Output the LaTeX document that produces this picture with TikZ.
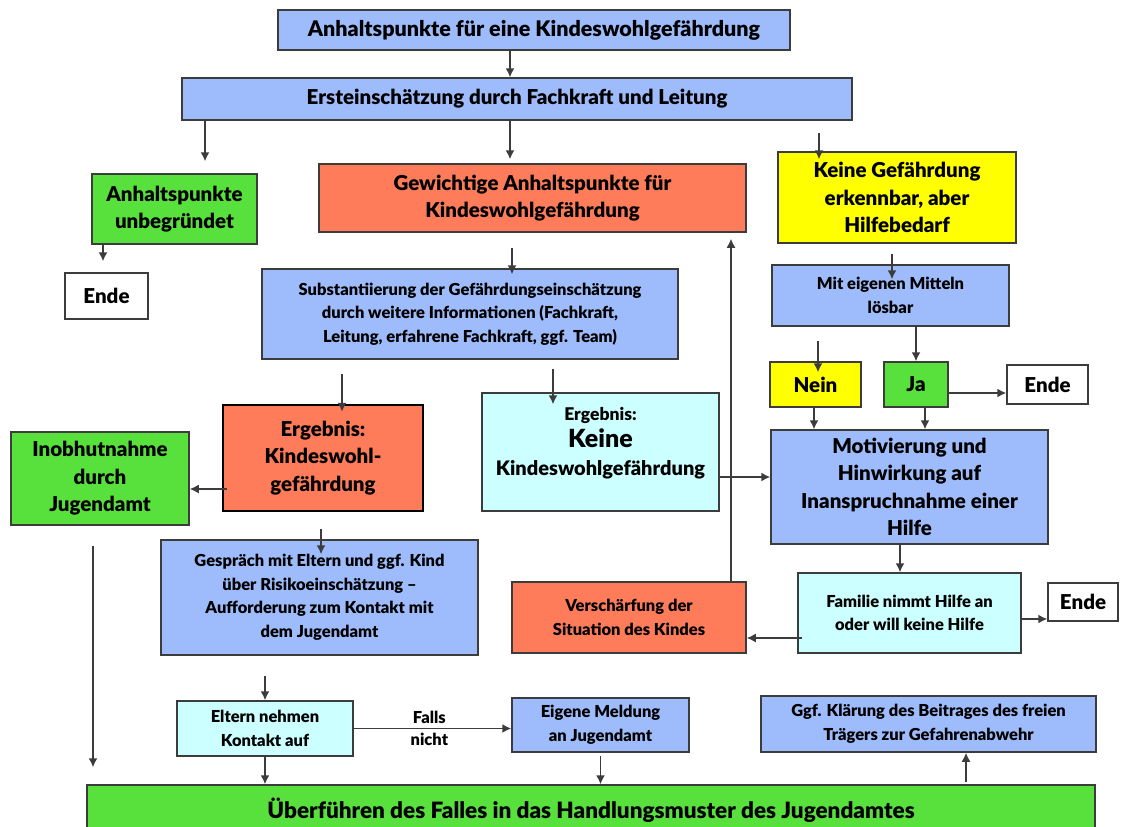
\documentclass[tikz,border=0pt]{standalone}
\usepackage{fontspec}
\setmainfont{Lato}[BoldFont={Lato Black}]
\usepackage{tikz}
\usetikzlibrary{arrows.meta}
\definecolor{blau}{RGB}{158,188,252}
\definecolor{rot}{RGB}{255,124,90}
\definecolor{gruen}{RGB}{88,224,60}
\definecolor{gelb}{RGB}{255,255,0}
\definecolor{tuerkis}{RGB}{204,255,255}
\definecolor{rahmen}{RGB}{60,60,60}
\newcommand{\schriftgross}{\fontsize{20.5}{27.5}\selectfont}
\newcommand{\schriftmittel}{\fontsize{16.5}{23.5}\selectfont}
\tikzset{kasten/.style = {draw=rahmen, line width=1.5pt, align=center, inner sep=0pt,
                          font=\bfseries\schriftgross},
         blaubox/.style = {kasten, fill=blau},
         rotbox/.style = {kasten, fill=rot},
         gruenbox/.style = {kasten, fill=gruen},
         gelbbox/.style = {kasten, fill=gelb},
         tuerkisbox/.style = {kasten, fill=tuerkis},
         weissbox/.style = {kasten, fill=white},
         mittel/.style = {font=\bfseries\schriftmittel},
         pfeil/.style = {-{Latex[length=9pt, width=9pt]}, line width=1.5pt, draw=rahmen}}

\begin{document}
\begin{tikzpicture}[x=1pt, y=-1pt]
      \useasboundingbox (0,0) rectangle (1122,827);
      \clip (0,0) rectangle (1122,827);
      \node [blaubox, font=\bfseries\fontsize{21.5}{27.5}\selectfont, minimum width=512, minimum height=40] (anhalt) at (534,30) {Anhaltspunkte für eine Kindeswohlgefährdung};
      \node [blaubox, minimum width=670, minimum height=42] (erst) at (517,99) {Ersteinschätzung durch Fachkraft und Leitung};
      \node [gruenbox, minimum width=165, minimum height=70] (unbegr) at (174.5,209) {Anhaltspunkte\\unbegründet};
      \node [weissbox, minimum width=83, minimum height=46] (ende1) at (106.5,296) {Ende};
      \node [rotbox, minimum width=427, minimum height=68] (gewicht) at (532.5,198) {Gewichtige Anhaltspunkte für\\Kindeswohlgefährdung};
      \node [gelbbox, minimum width=238, minimum height=91] (keinegef) at (897,197.5) {Keine Gefährdung\\erkennbar, aber\\Hilfebedarf};
      \node [blaubox, mittel, minimum width=416, minimum height=90] (subst) at (470,314) {Substantiierung der Gefährdungseinschätzung\\durch weitere Informationen (Fachkraft,\\Leitung, erfahrene Fachkraft, ggf. Team)};
      \node [blaubox, mittel, minimum width=237, minimum height=61] (mittel) at (890.5,295.5) {Mit eigenen Mitteln\\lösbar};
      \node [gelbbox, minimum width=91, minimum height=45] (nein) at (815.5,384.5) {Nein};
      \node [gruenbox, minimum width=64, minimum height=45] (ja) at (916,384.5) {Ja};
      \node [weissbox, minimum width=81, minimum height=39] (ende2) at (1047.5,384.5) {Ende};
      \node [rotbox, draw=black, line width=2.5pt, minimum width=200, minimum height=106] (ergebnis) at (323,458) {Ergebnis:\\Kindeswohl-\\gefährdung};
      \node [gruenbox, minimum width=178, minimum height=93] (inobhut) at (100,478.5) {Inobhutnahme\\durch\\Jugendamt};
      \node [blaubox, mittel, minimum width=317, minimum height=115] (gespraech) at (319.5,597.5) {Gespräch mit Eltern und ggf. Kind\\über Risikoeinschätzung –\\Aufforderung zum Kontakt mit\\dem Jugendamt};
      \node [tuerkisbox, minimum width=237, minimum height=118] (keinekwg) at (600.5,452) {{\fontsize{17.5}{22}\selectfont Ergebnis:}\\{\fontsize{25}{28}\selectfont Keine}\\{\fontsize{20}{29}\selectfont Kindeswohlgefährdung}\\[-6pt]\mbox{}};
      \node [blaubox, minimum width=277, minimum height=114] (motiv) at (909.5,487) {Motivierung und\\Hinwirkung auf\\Inanspruchnahme einer\\Hilfe};
      \node [tuerkisbox, mittel, minimum width=223, minimum height=80] (familie) at (909.5,613) {Familie nimmt Hilfe an\\oder will keine Hilfe};
      \node [rotbox, mittel, minimum width=234, minimum height=71] (verschaerf) at (629,617.5) {Verschärfung der\\Situation des Kindes};
      \node [weissbox, minimum width=70, minimum height=38] (ende3) at (1083,602) {Ende};
      \node [tuerkisbox, mittel, minimum width=176, minimum height=55] (eltern) at (265,728.5) {Eltern nehmen\\Kontakt auf};
      \node [blaubox, mittel, minimum width=177, minimum height=54] (meldung) at (600.5,725) {Eigene Meldung\\an Jugendamt};
      \node [blaubox, mittel, minimum width=335, minimum height=56] (klaerung) at (928.5,724) {Ggf. Klärung des Beitrages des freien\\Trägers zur Gefahrenabwehr};
      \node [gruenbox, font=\bfseries\fontsize{22.5}{26}\selectfont, minimum width=1008, minimum height=50] (ueberf) at (591,810) {Überführen des Falles in das Handlungsmuster des Jugendamtes};

      \draw [pfeil] ([xshift=-24]anhalt.south) -- ([xshift=-24]anhalt.south |- erst.north);
      \draw [pfeil, shorten >=12pt] ([xshift=30.5]unbegr.north |- erst.south) -- ([xshift=30.5]unbegr.north);
      \draw [pfeil, shorten >=4pt] ([xshift=-22.5]gewicht.north |- erst.south) -- ([xshift=-22.5]gewicht.north);
      \draw [pfeil, shorten <=12pt, shorten >=-8pt] ([xshift=-78]keinegef.north |- erst.south) -- ([xshift=-78]keinegef.north);
      \draw [pfeil, shorten >=11pt] ([xshift=-3.5]ende1.north |- unbegr.south) -- ([xshift=-3.5]ende1.north);
      \draw [pfeil, shorten <=15pt, shorten >=-6pt] ([xshift=42]subst.north |- gewicht.south) -- ([xshift=42]subst.north);
      \draw [pfeil, shorten <=14pt, shorten >=-8pt] ([xshift=19]ergebnis.north |- subst.south) -- ([xshift=19]ergebnis.north);
      \draw [pfeil, shorten <=9pt, shorten >=-12pt] ([xshift=-47.5]keinekwg.north |- subst.south) -- ([xshift=-47.5]keinekwg.north);
      \draw [pfeil, shorten <=-5pt] ([yshift=-31]ergebnis.west) -- ([yshift=-31]ergebnis.west -| inobhut.east);
      \draw [pfeil, shorten <=17pt, shorten >=-15pt] ([xshift=-2]ergebnis.south) -- ([xshift=-2]ergebnis.south |- gespraech.north);
      \draw [pfeil, shorten <=20pt, shorten >=17pt] ([xshift=-7]inobhut.south) -- ([xshift=-7]inobhut.south |- ueberf.north);
      \draw [pfeil, shorten <=20pt] (gespraech.south -| eltern.north) -- (eltern.north);
      \draw [pfeil] (eltern.south) -- (eltern.south |- ueberf.north);
      \draw [pfeil] (eltern.east) -- (eltern.east -| meldung.west)
            node [mittel, pos=0.48, above=1pt] {Falls} node [mittel, pos=0.48, below=1pt] {nicht};
      \draw [pfeil, shorten <=3pt] (meldung.south) -- (meldung.south |- ueberf.north);
      \draw [pfeil, shorten <=2pt] ([xshift=37.5]klaerung.south |- ueberf.north) -- ([xshift=37.5]klaerung.south);
      \draw [pfeil] ([yshift=-25]keinekwg.east) -- ([yshift=-25]keinekwg.east -| motiv.west);
      \draw [pfeil, shorten >=6pt] ([xshift=102]verschaerf.north) -- ([xshift=102]verschaerf.north |- gewicht.south);
      \draw [pfeil] ([xshift=-9.5]motiv.south) -- ([xshift=-9.5]motiv.south |- familie.north);
      \draw [pfeil, shorten <=-5pt] ([yshift=-25]familie.west) -- ([yshift=-25]familie.west -| verschaerf.east);
      \draw [pfeil] ([yshift=-6]familie.east) -- ([yshift=-6]familie.east -| ende3.west);
      \draw [pfeil] ([xshift=-1.5]nein.south) -- ([xshift=-1.5]nein.south |- motiv.north);
      \draw [pfeil] ([xshift=9]ja.south) -- ([xshift=9]ja.south |- motiv.north);
      \draw [pfeil] ([yshift=-8.5]ja.east) -- ([yshift=-8.5]ja.east -| ende2.west);
      \draw [pfeil] (mittel.south -| ja.north) -- (ja.north);
      \draw [pfeil, shorten <=14pt, shorten >=-11pt] ([xshift=2.5]nein.north |- mittel.south) -- ([xshift=2.5]nein.north);
      \draw [pfeil, shorten <=10pt, shorten >=-15pt] ([xshift=-5]keinegef.south) -- ([xshift=-5]keinegef.south |- mittel.north);
    \end{tikzpicture}
\end{document}
